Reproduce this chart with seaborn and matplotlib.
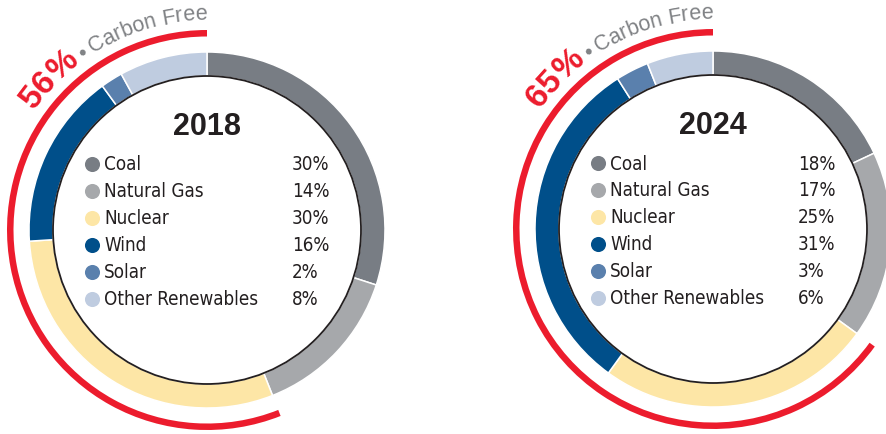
"""
Electricity generation mix, 2018 vs 2024, as two donut charts.
"""

import numpy as np
import matplotlib
matplotlib.use("Agg")
import matplotlib.pyplot as plt
import seaborn as sns
from matplotlib.font_manager import FontProperties, findfont, fontManager
from matplotlib.ft2font import FT2Font
from matplotlib.patches import Circle

years = ["2018", "2024"]
sources = ["Coal", "Natural Gas", "Nuclear", "Wind", "Solar", "Other Renewables"]
share_2018 = [30, 14, 30, 16, 2, 8]
share_2024 = [18, 17, 25, 31, 3, 6]
carbon_free = [56, 65]

colors = ["#787d84", "#a6a8ab", "#fde6a6", "#004f8a", "#5a80ad", "#bfcce0"]
RED = "#ec1c2d"
GRAY = "#808285"
INK = "#231f20"

W, H = 886, 435
centers = [(207, 204), (713, 205)]
R_OUT, RING = 178, 24
R_RED, RED_W = 200, 6.5
R_TEXT = 211

sns.set_theme(style="white")
plt.rcParams["font.family"] = ["Liberation Sans", "DejaVu Sans"]


def font_file(name, bold=False, condensed=False):
    """Path of an installed face, or None."""
    for f in fontManager.ttflist:
        fn = f.fname.lower()
        if f.name != name or ("bold" in fn) != bold or ("oblique" in fn or "italic" in fn):
            continue
        if ("condensed" in fn or "narrow" in fn) == condensed:
            return f.fname
    return None


def face(name, size, bold=False, condensed=False):
    path = font_file(name, bold, condensed)
    if path:
        return FontProperties(fname=path, size=size)
    return FontProperties(family=name, weight="bold" if bold else "normal", size=size)


# legend is set in a condensed face in the original
if font_file("DejaVu Sans", condensed=True):
    narrow = face("DejaVu Sans", 13.5, condensed=True)
else:
    narrow = face("Roboto", 14)
title_font = face("Liberation Sans", 22, bold=True)
big_bold = face("Liberation Sans", 24, bold=True)
regular = face("Liberation Sans", 15.5)
gap = face("Liberation Sans", 10.5)


def advances(text, prop):
    """Advance width (px at dpi 100) of every character."""
    font = FT2Font(findfont(prop))
    font.set_size(prop.get_size_in_points(), 100)
    return [font.load_char(ord(c)).linearHoriAdvance / 65536 for c in text]


def arc_text(ax, parts, cx, cy, radius, end_deg):
    """Write parts [(text, prop, color)] clockwise along a circle, ending at end_deg."""
    chars = []
    for text, prop, color in parts:
        for c, w in zip(text, advances(text, prop)):
            chars.append((c, w, prop, color))
    total = sum(w for _, w, _, _ in chars)
    ang = np.radians(end_deg) + total / radius
    for c, w, prop, color in chars:
        mid = ang - (w / 2) / radius
        x = cx + radius * np.cos(mid)
        y = cy + radius * np.sin(mid)
        ax.text(x, y, c, fontproperties=prop, color=color, ha="center",
                va="baseline", rotation=np.degrees(mid) - 90, rotation_mode="anchor")
        ang -= w / radius


fig = plt.figure(figsize=(W / 100, H / 100), dpi=100)
ax = fig.add_axes([0, 0, 1, 1])

for year, shares, cf, (cx, cy) in zip(years, [share_2018, share_2024], carbon_free, centers):
    # carbon-free arc
    ax.pie([cf, 100 - cf], colors=[RED, "none"], startangle=90, counterclock=True,
           radius=R_RED, center=(cx, cy),
           wedgeprops=dict(width=RED_W, linewidth=0))
    # main ring
    ax.pie(shares, colors=colors, startangle=90, counterclock=False,
           radius=R_OUT, center=(cx, cy),
           wedgeprops=dict(width=RING, edgecolor="white", linewidth=1.1))
    ax.add_patch(Circle((cx, cy), R_OUT - RING, fill=False, edgecolor=INK, linewidth=1.3))

    ax.text(cx, cy + 96, year, ha="center", va="baseline", fontproperties=title_font,
            color=INK)

    for i, (src, val) in enumerate(zip(sources, shares)):
        y = cy + 66 - i * 26.9
        ax.scatter([cx - 115], [y], s=118, color=colors[i], linewidths=0, zorder=3)
        ax.text(cx - 103, y, src, fontproperties=narrow, color=INK, va="center")
        ax.text(cx + 85, y, f"{val}%", fontproperties=narrow, color=INK, va="center")

    arc_text(ax, [(f"{cf}%", big_bold, RED), (" ", gap, GRAY), ("\u2022", regular, GRAY),
                  (" ", gap, GRAY), ("Carbon Free", regular, GRAY)],
             cx, cy, R_TEXT, 90)

ax.set_xlim(0, W)
ax.set_ylim(0, H)
ax.set_aspect("equal")
ax.axis("off")

plt.savefig("out.png", dpi=100)
plt.close()
